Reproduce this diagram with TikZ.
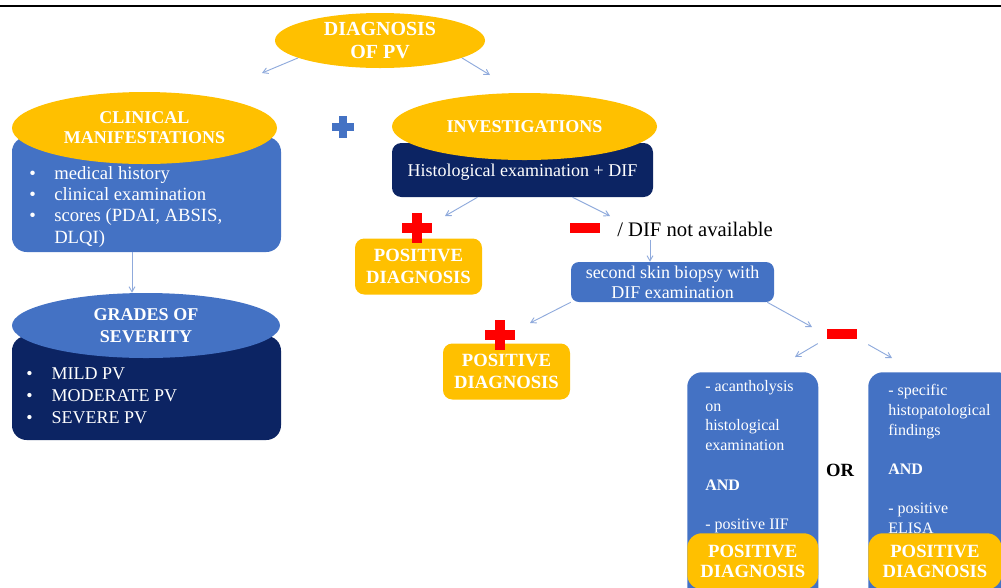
\documentclass[tikz,border=0pt]{standalone}
\usepackage{fontspec}
\setmainfont{Liberation Serif}
\usetikzlibrary{arrows,shapes.geometric,calc}

\definecolor{pvyellow}{HTML}{FFC000}
\definecolor{pvblue}{HTML}{4472C4}
\definecolor{pvnavy}{HTML}{0C2463}
\definecolor{pvarrow}{HTML}{8FAADC}
\definecolor{pvred}{HTML}{FF0000}

\tikzset{
  redplus/.style={minimum size=22.5pt,inner sep=0pt,path picture={
    \fill[pvred] ([xshift=-11.25pt,yshift=-3.75pt]path picture bounding box.center) rectangle ([xshift=11.25pt,yshift=3.75pt]path picture bounding box.center);
    \fill[pvred] ([xshift=-3.75pt,yshift=-11.25pt]path picture bounding box.center) rectangle ([xshift=3.75pt,yshift=11.25pt]path picture bounding box.center);}},
  blueplus/.style={minimum size=17pt,inner sep=0pt,path picture={
    \fill[pvblue] ([xshift=-8.5pt,yshift=-3pt]path picture bounding box.center) rectangle ([xshift=8.5pt,yshift=3pt]path picture bounding box.center);
    \fill[pvblue] ([xshift=-3pt,yshift=-8.5pt]path picture bounding box.center) rectangle ([xshift=3pt,yshift=8.5pt]path picture bounding box.center);}},
  redminus/.style={rectangle,fill=pvred,minimum width=22.5pt,minimum height=8pt,inner sep=0pt}
}

\begin{document}
\begin{tikzpicture}[x=0.75pt,y=-0.75pt]
    \tikzstyle{oval}=[ellipse,inner sep=0pt,text=white,align=center,font=\fontsize{13.5}{15}\selectfont\bfseries]
    \tikzstyle{box}=[rectangle,rounded corners=9pt,inner sep=0pt,text=white]
    \tikzstyle{posbox}=[box,fill=pvyellow,rounded corners=7pt,minimum width=95.25pt,minimum height=42pt,align=center,font=\fontsize{14}{16}\selectfont\bfseries]
    \tikzstyle{endbox}=[box,fill=pvyellow,rounded corners=11pt,minimum width=98.25pt,minimum height=42pt,align=center,font=\fontsize{14}{15}\selectfont\bfseries]
    \tikzstyle{list}=[anchor=north west,inner sep=0pt,text=white]
    \tikzstyle{link}=[->,>=angle 60,draw=pvarrow,line width=0.7pt]

    \useasboundingbox (0,0) rectangle (1001,587);
    \clip (0,0) rectangle (1001,587);
    \draw[line width=2pt] (0,6) -- (1001,6);

    \node[oval,fill=pvyellow,minimum width=157.5pt,minimum height=41.25pt,font=\fontsize{15}{17.25}\selectfont\bfseries] (diag) at (380,40.5) {DIAGNOSIS\\OF PV};

    % clinical side
    \node[box,fill=pvblue,rounded corners=11pt,minimum width=201.75pt,minimum height=86.25pt] (cmbox) at (146.5,194.5) {};
    \node[oval,fill=pvyellow,minimum width=198.75pt,minimum height=54pt] (cm) at (144.5,128) {CLINICAL\\MANIFESTATIONS};
    \node[list,font=\fontsize{14}{16}\selectfont] (cmlist) at (29,164) {\begin{tabular}{@{}p{18.75pt}@{}l@{}}
        \textbullet & medical history\\
        \textbullet & clinical examination\\
        \textbullet & scores (PDAI, ABSIS,\\
                    & DLQI)
      \end{tabular}};

    \node[box,fill=pvnavy,rounded corners=11pt,minimum width=201.75pt,minimum height=78pt] (grbox) at (146.5,388) {};
    \node[oval,fill=pvblue,minimum width=201pt,minimum height=48.75pt,font=\fontsize{13.5}{16.5}\selectfont\bfseries] (gr) at (146,325.5) {GRADES OF\\SEVERITY};
    \node[list,font=\fontsize{13.5}{16.5}\selectfont] (grlist) at (26,364) {\begin{tabular}{@{}p{19pt}@{}l@{}}
        \textbullet & MILD PV\\
        \textbullet & MODERATE PV\\
        \textbullet & SEVERE PV
      \end{tabular}};

    \node[blueplus] (bplus) at (343,127) {};

    % investigations side
    \node[box,fill=pvnavy,rounded corners=7pt,minimum width=195.75pt,minimum height=40.5pt,text height=10pt,text depth=1pt,font=\fontsize{13.5}{15}\selectfont] (hist) at (522.5,170) {Histological examination + DIF};
    \node[oval,fill=pvyellow,minimum width=198.75pt,minimum height=50.25pt] (inv) at (524.5,126.5) {INVESTIGATIONS};

    \node[posbox] (pos1) at (418.5,266.5) {POSITIVE\\DIAGNOSIS};
    \node[redplus] (rp1) at (417,228) {};
    \node[redminus] (rm1) at (585,228) {};
    \node[anchor=west,inner sep=0pt,font=\fontsize{15.5}{18}\selectfont] (dif) at (617,229) {/ DIF not available};

    \node[box,fill=pvblue,rounded corners=6pt,minimum width=152.25pt,minimum height=30pt,align=center,font=\fontsize{13.5}{15}\selectfont] (bio) at (672.5,282) {second skin biopsy with\\DIF examination};

    \node[posbox] (pos2) at (506.5,371.5) {POSITIVE\\DIAGNOSIS};
    \node[redplus] (rp2) at (500,334.5) {};
    \node[redminus] (rm2) at (842,334) {};

    % the two criteria
    \node[box,fill=pvblue,rounded corners=11pt,minimum width=98.25pt,minimum height=180pt,anchor=north west] (crit1) at (687,372) {};
    \node[box,fill=pvblue,rounded corners=11pt,minimum width=108pt,minimum height=180pt,anchor=north west] (crit2) at (868,372) {};
    \node[list,align=left,font=\fontsize{12}{14.8}\selectfont] (crit1txt) at (705,380) {- acantholysis\\on\\histological\\examination\\[14.8pt]\textbf{AND}\\[14.8pt]- positive IIF};
    \node[list,align=left,font=\fontsize{12}{14.8}\selectfont] (crit2txt) at (888,384) {- specific\\histopatological\\findings\\[14.8pt]\textbf{AND}\\[14.8pt]- positive\\ELISA};
    \node[endbox,anchor=north west] (pos3) at (687,533) {POSITIVE\\DIAGNOSIS};
    \node[endbox,anchor=north west,minimum width=100pt] (pos4) at (868,533) {POSITIVE\\DIAGNOSIS};
    \node[font=\fontsize{14}{16}\selectfont\bfseries] (or) at (840,470) {OR};

    % arrows
    \coordinate (cgx) at (132,0);
    \coordinate (d1) at (262,73);
    \coordinate (d2) at (490,75);
    \coordinate (h1) at (445,216);
    \coordinate (h2) at (610,216);
    \coordinate (bgx) at (650,0);
    \coordinate (b1) at (530,323);
    \coordinate (b2) at (812,327);
    \coordinate (m1) at (795,357);
    \coordinate (m2) at (892,358);
    \draw[link] (diag.192) -- (d1);
    \draw[link] (diag.348) -- (d2);
    \draw[link] (cgx |- cmbox.south) -- (cgx |- gr.north);
    \draw[link] ($(hist.south)+(-45,0)$) -- (h1);
    \draw[link] ($(hist.south)+(50,0)$) -- (h2);
    \draw[link] ($(bgx |- dif.south)+(0,3)$) -- (bgx |- bio.north);
    \draw[link] ($(bio.south west)+(0,0)$) -- (b1);
    \draw[link] ($(bio.south east)+(-7,0)$) -- (b2);
    \draw[link] ($(rm2.south west)+(-9,4)$) -- (m1);
    \draw[link] ($(rm2.south east)+(11,5)$) -- (m2);
\end{tikzpicture}
\end{document}
